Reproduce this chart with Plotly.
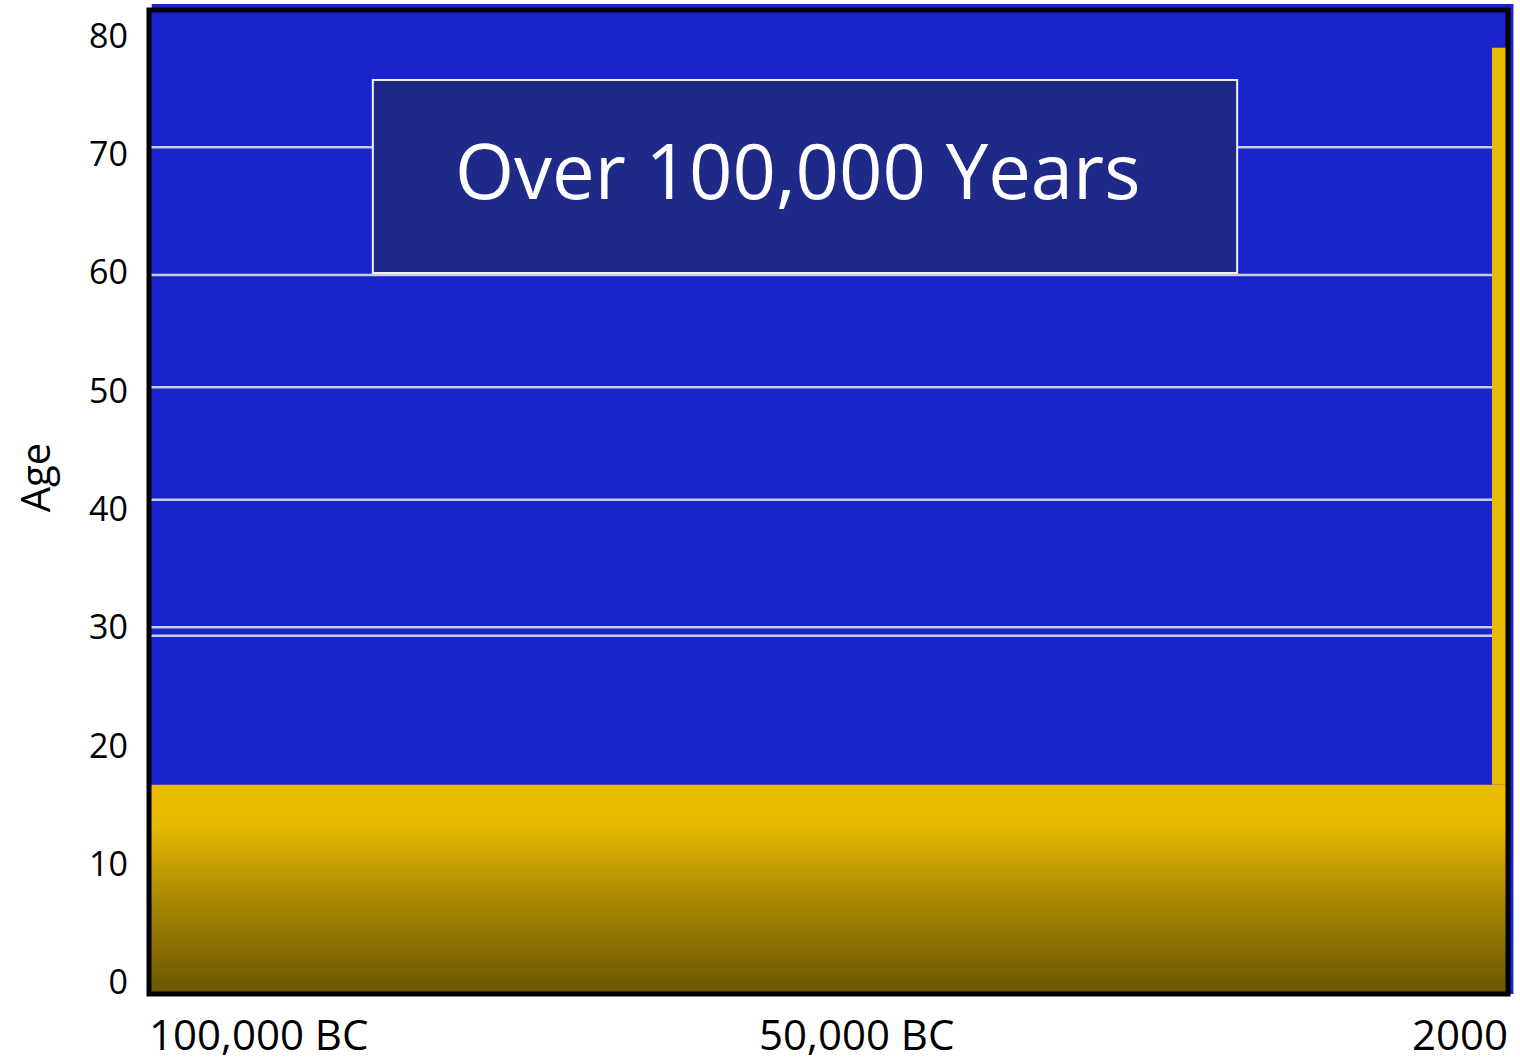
import plotly.graph_objects as go

# ---- data ----
x_range_years = [-100000, 2000]
early_years = [-100000, 800]          # long prehistoric span
early_life_expectancy = [16.7, 16.7]  # age
recent_years = [800, 2000]            # recent era (narrow bar at right)
recent_life_expectancy = [79.0, 79.0]
grid_ages = [70.6, 59.8, 50.3, 40.8, 30.0, 29.3]
y_tick_vals = [0, 10, 20, 30, 40, 50, 60, 70, 80]
y_tick_text = ["0", "10", "20", "30", "40", "50", "60", "70", "80"]
x_label_years = [-100000, -50000, 2000]
x_label_text = ["100,000 BC", "50,000 BC", "2000"]
title_text = "Over 100,000 Years"
y_title = "Age"

FONT = "Open Sans"
BLUE = "#1A24CC"
YELLOW = "#E8BA00"

fig = go.Figure()

# bottom gradient area (whole period)
fig.add_trace(go.Scatter(
    x=[x_range_years[0], x_range_years[1], x_range_years[1], x_range_years[0]],
    y=[early_life_expectancy[0], early_life_expectancy[0], -1.2, -1.2],
    fill="toself", mode="lines", line=dict(width=0),
    fillgradient=dict(type="vertical",
                      colorscale=[[0, "#6A5300"], [0.45, "#A88800"], [0.82, YELLOW], [1, YELLOW]]),
    hoverinfo="skip", showlegend=False,
))

# recent narrow bar
fig.add_trace(go.Scatter(
    x=[recent_years[0], recent_years[1], recent_years[1], recent_years[0]],
    y=[recent_life_expectancy[0], recent_life_expectancy[1], early_life_expectancy[1], early_life_expectancy[1]],
    fill="toself", mode="lines", line=dict(width=0), fillcolor=YELLOW,
    hoverinfo="skip", showlegend=False,
))

shapes = []
# blue backdrop slightly larger than plot
shapes.append(dict(type="rect", xref="paper", yref="paper", x0=0.002, x1=1.004, y0=0, y1=1.006,
                   fillcolor=BLUE, line=dict(width=0), layer="below"))
for g in grid_ages:
    shapes.append(dict(type="line", xref="paper", yref="y", x0=0, x1=1, y0=g, y1=g,
                       line=dict(color="#C9CDE2", width=2.5), layer="below"))
# title box
shapes.append(dict(type="rect", xref="paper", yref="paper", x0=0.1647, x1=0.8007, y0=0.7327, y1=0.9289,
                   fillcolor="#1F2A88", line=dict(color="#F0F0F8", width=2)))
# frame
shapes.append(dict(type="rect", xref="paper", yref="paper", x0=0, x1=1, y0=0, y1=1,
                   line=dict(color="black", width=5), fillcolor="rgba(0,0,0,0)"))

annotations = [dict(xref="paper", yref="paper", x=0.477, y=0.8374, text=title_text, showarrow=False,
                    font=dict(family=FONT, size=76, color="white"), xanchor="center", yanchor="middle"),
               dict(xref="paper", yref="paper", x=-0.084, y=0.525, text=y_title, showarrow=False,
                    textangle=-90, xanchor="center", yanchor="middle",
                    font=dict(family=FONT, size=40, color="black"))]
anchors = ["left", "center", "right"]
shifts = [-2, 41, 2]
for xv, t, a, s in zip(x_label_years, x_label_text, anchors, shifts):
    annotations.append(dict(xref="x", yref="paper", x=xv, y=0, text=t, showarrow=False,
                            xanchor=a, yanchor="top", yshift=-9, xshift=s,
                            font=dict(family=FONT, size=42, color="black")))

fig.update_layout(
    width=1520, height=1061,
    margin=dict(l=149, r=12, t=10, b=67),
    paper_bgcolor="white", plot_bgcolor=BLUE,
    shapes=shapes, annotations=annotations,
    xaxis=dict(range=x_range_years, showgrid=False, zeroline=False, showticklabels=False,
               fixedrange=True),
    yaxis=dict(range=[-1.0, 82.2], tickvals=y_tick_vals, ticktext=y_tick_text,
               showgrid=False, zeroline=False, ticklabelstandoff=20,
               tickfont=dict(family=FONT, size=34, color="black")),
)

fig.write_html("out.html")
